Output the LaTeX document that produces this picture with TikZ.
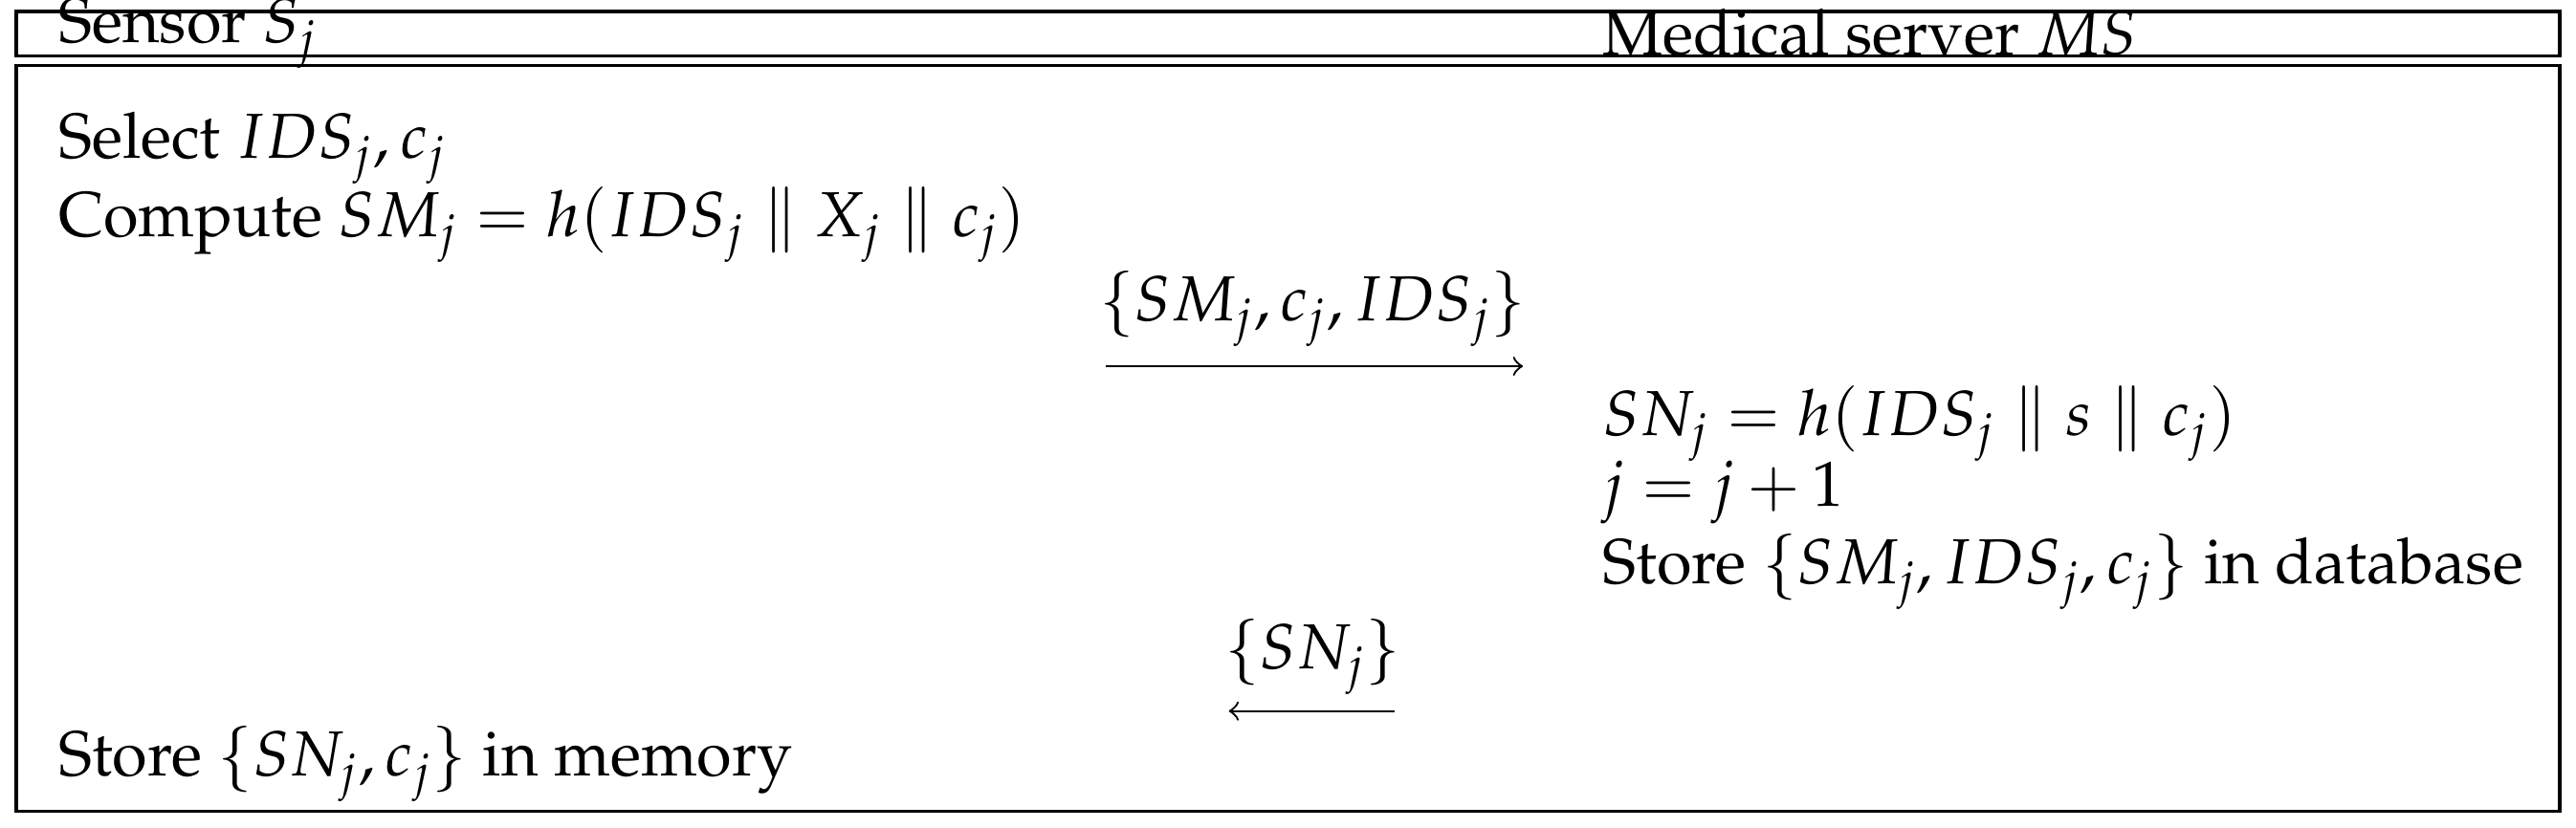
\documentclass[tikz,border=0pt]{standalone}
\usepackage[T1]{fontenc}
\usepackage{mathpazo}
\begin{document}
\begin{tikzpicture}[x=0.3006pt,y=-0.3006pt,
  txt/.style={anchor=west,inner sep=0pt,font=\fontsize{11.65}{14}\selectfont},
  msg/.style={inner sep=0pt,font=\fontsize{11.65}{14}\selectfont},
  box/.style={draw,line width=0.6pt}]
\useasboundingbox (0,0) rectangle (1568,504);
\draw[box] (10,7) rectangle (1558,34);
\draw[box] (10,40) rectangle (1558,494);
\node[txt] (h1) at (35,20) {Sensor $S_j$};
\node[txt] (h2) at (975,20) {Medical server $MS$};
\node[txt] (a1) at (35,90) {Select $IDS_j, c_j$};
\node[txt] (a2) at (35,137) {Compute $SM_j = h(IDS_j \parallel X_j \parallel c_j)$};
\node[msg] (m1) at (799,188) {$\{SM_j, c_j, IDS_j\}$};
\coordinate (m1s) at (673,223);
\coordinate (m1e) at (927,223);
\draw[->] (m1s) -- (m1e);
\node[txt] (b1) at (975,258) {$SN_j = h(IDS_j \parallel s \parallel c_j)$};
\node[txt] (b2) at (975,300) {$j = j + 1$};
\node[txt] (b3) at (975,348) {Store $\{SM_j, IDS_j, c_j\}$ in database};
\node[msg] (m2) at (799,400) {$\{SN_j\}$};
\coordinate (m2s) at (849,433);
\coordinate (m2e) at (748,433);
\draw[->] (m2s) -- (m2e);
\node[txt] (c1) at (35,465) {Store $\{SN_j, c_j\}$ in memory};
\end{tikzpicture}
\end{document}
